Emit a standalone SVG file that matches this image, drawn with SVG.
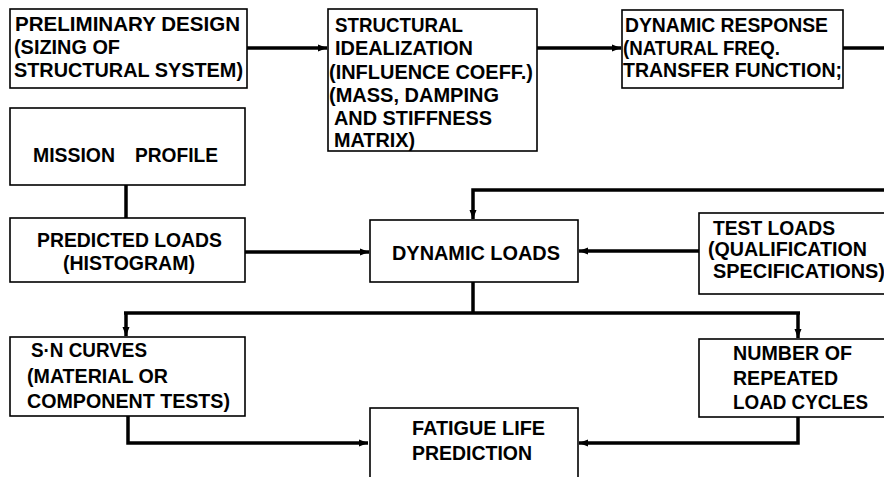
<svg xmlns="http://www.w3.org/2000/svg" width="884" height="477" viewBox="0 0 884 477">
<defs>
<style>
.box{fill:#fff;stroke:#000;stroke-width:1.6}
.t{font-family:"Liberation Sans",Arial,sans-serif;font-weight:bold;font-size:21px;fill:#000}
.c{fill:none;stroke:#000;stroke-width:3.5}
</style>
<marker id="ah" markerUnits="userSpaceOnUse" markerWidth="10" markerHeight="10" refX="9" refY="5" orient="auto">
<path d="M0,1.5 L9,5 L0,8.5 Z" fill="#000"/>
</marker>
</defs>
<rect width="884" height="477" fill="#fff"/>
<g id="connectors">
<line class="c" x1="247" y1="48" x2="327" y2="48" marker-end="url(#ah)"/>
<line class="c" x1="537" y1="48" x2="621" y2="48" marker-end="url(#ah)"/>
<line class="c" x1="843" y1="48" x2="886" y2="48"/>
<polyline class="c" points="886,190 473,190 473,219" marker-end="url(#ah)"/>
<line class="c" x1="126" y1="185" x2="126" y2="218"/>
<line class="c" x1="245" y1="252" x2="369" y2="252" marker-end="url(#ah)"/>
<line class="c" x1="699" y1="251" x2="579" y2="251" marker-end="url(#ah)"/>
<line class="c" x1="473" y1="282" x2="473" y2="313"/>
<line class="c" x1="124" y1="313" x2="800" y2="313"/>
<line class="c" x1="126" y1="313" x2="126" y2="336" marker-end="url(#ah)"/>
<line class="c" x1="798" y1="313" x2="798" y2="338" marker-end="url(#ah)"/>
<polyline class="c" points="128,416 128,443 368,443" marker-end="url(#ah)"/>
<polyline class="c" points="798,417 798,443 579,443" marker-end="url(#ah)"/>
</g>
<g id="preliminary-design">
<rect class="box" x="10" y="9" width="237" height="79"/>
<text class="t" x="15" y="31" textLength="225" lengthAdjust="spacingAndGlyphs">PRELIMINARY DESIGN</text>
<text class="t" x="14" y="54" textLength="106" lengthAdjust="spacingAndGlyphs">(SIZING OF</text>
<text class="t" x="14" y="77" textLength="229" lengthAdjust="spacingAndGlyphs">STRUCTURAL SYSTEM)</text>
</g>
<g id="structural-idealization">
<rect class="box" x="328" y="9" width="209" height="142"/>
<text class="t" x="335" y="32" textLength="128" lengthAdjust="spacingAndGlyphs">STRUCTURAL</text>
<text class="t" x="335" y="55" textLength="138" lengthAdjust="spacingAndGlyphs">IDEALIZATION</text>
<text class="t" x="329" y="79" textLength="204" lengthAdjust="spacingAndGlyphs">(INFLUENCE COEFF.)</text>
<text class="t" x="329" y="102" textLength="170" lengthAdjust="spacingAndGlyphs">(MASS, DAMPING</text>
<text class="t" x="334" y="125" textLength="158" lengthAdjust="spacingAndGlyphs">AND STIFFNESS</text>
<text class="t" x="334" y="147" textLength="81" lengthAdjust="spacingAndGlyphs">MATRIX)</text>
</g>
<g id="dynamic-response">
<rect class="box" x="622" y="10" width="221" height="78"/>
<text class="t" x="625" y="32" textLength="203" lengthAdjust="spacingAndGlyphs">DYNAMIC RESPONSE</text>
<text class="t" x="623" y="55" textLength="157" lengthAdjust="spacingAndGlyphs">(NATURAL FREQ.</text>
<text class="t" x="623" y="77" textLength="219" lengthAdjust="spacingAndGlyphs">TRANSFER FUNCTION;</text>
</g>
<g id="mission-profile">
<rect class="box" x="10" y="108" width="235" height="77"/>
<text class="t" y="162"><tspan x="33" textLength="82" lengthAdjust="spacingAndGlyphs">MISSION</tspan> <tspan x="135" textLength="83" lengthAdjust="spacingAndGlyphs">PROFILE</tspan></text>
</g>
<g id="predicted-loads">
<rect class="box" x="10" y="218" width="235" height="64"/>
<text class="t" x="37" y="247" textLength="185" lengthAdjust="spacingAndGlyphs">PREDICTED LOADS</text>
<text class="t" x="63" y="270" textLength="132" lengthAdjust="spacingAndGlyphs">(HISTOGRAM)</text>
</g>
<g id="dynamic-loads">
<rect class="box" x="370" y="220" width="208" height="62"/>
<text class="t" x="392" y="260" textLength="168" lengthAdjust="spacingAndGlyphs">DYNAMIC LOADS</text>
</g>
<g id="test-loads">
<rect class="box" x="699" y="213" width="200" height="81"/>
<text class="t" x="713" y="235" textLength="122" lengthAdjust="spacingAndGlyphs">TEST LOADS</text>
<text class="t" x="708" y="256" textLength="159" lengthAdjust="spacingAndGlyphs">(QUALIFICATION</text>
<text class="t" x="713" y="278" textLength="172" lengthAdjust="spacingAndGlyphs">SPECIFICATIONS)</text>
</g>
<g id="sn-curves">
<rect class="box" x="10" y="337" width="235" height="79"/>
<text class="t" x="31" y="357" textLength="116" lengthAdjust="spacingAndGlyphs">S·N CURVES</text>
<text class="t" x="27" y="383" textLength="141" lengthAdjust="spacingAndGlyphs">(MATERIAL OR</text>
<text class="t" x="27" y="408" textLength="203" lengthAdjust="spacingAndGlyphs">COMPONENT TESTS)</text>
</g>
<g id="number-of-cycles">
<rect class="box" x="699" y="339" width="200" height="78"/>
<text class="t" x="733" y="360" textLength="119" lengthAdjust="spacingAndGlyphs">NUMBER OF</text>
<text class="t" x="733" y="385" textLength="105" lengthAdjust="spacingAndGlyphs">REPEATED</text>
<text class="t" x="733" y="409" textLength="135" lengthAdjust="spacingAndGlyphs">LOAD CYCLES</text>
</g>
<g id="fatigue-life">
<rect class="box" x="370" y="408" width="208" height="80"/>
<text class="t" x="412" y="435" textLength="133" lengthAdjust="spacingAndGlyphs">FATIGUE LIFE</text>
<text class="t" x="412" y="460" textLength="120" lengthAdjust="spacingAndGlyphs">PREDICTION</text>
</g>
</svg>
